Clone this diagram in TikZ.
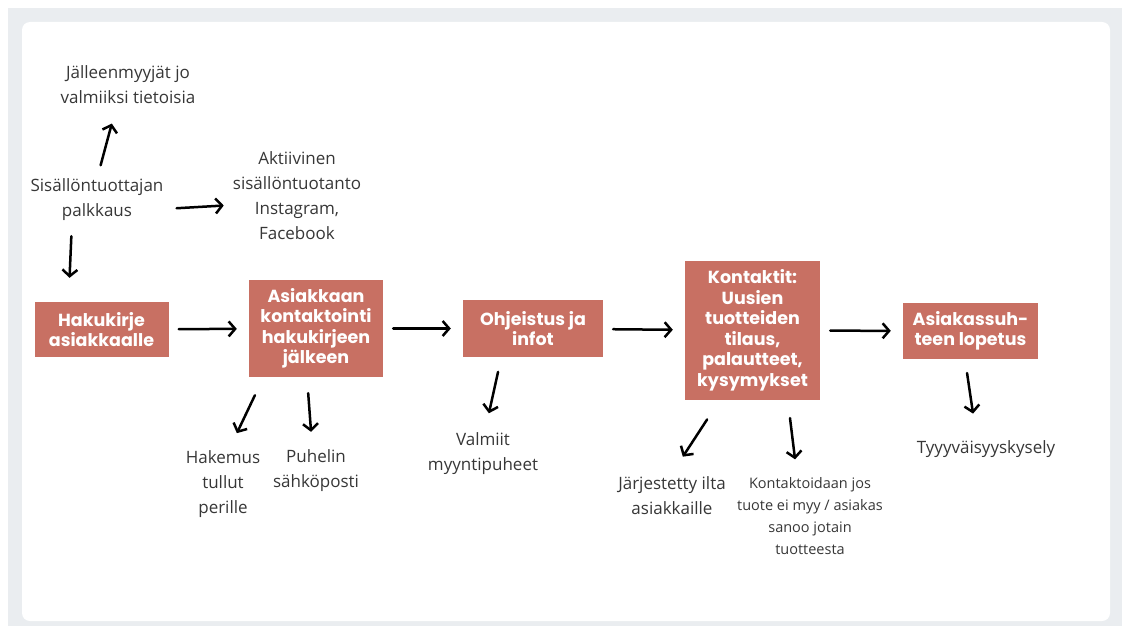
\documentclass[tikz,border=0pt]{standalone}
\usepackage{fontspec}
\usepackage{xcolor}
\usetikzlibrary{arrows.meta, positioning}
\setmainfont{Open Sans}
\newfontfamily\boxfont{Poppins}
\definecolor{salmon}{RGB}{200,112,99}
\definecolor{pagegray}{RGB}{234,237,240}
\definecolor{txtgray}{RGB}{55,55,55}

\begin{document}
\begin{tikzpicture}[x=1pt, y=-1pt,
        box/.style={fill=salmon, text=white, align=center, inner sep=0pt, minimum width=134pt,
            font=\boxfont\bfseries\fontsize{17.5}{20.5}\selectfont},
        note/.style={text=txtgray, align=center, inner sep=0pt, font=\fontsize{17}{25}\selectfont},
        smallnote/.style={text=txtgray, align=center, inner sep=0pt, font=\fontsize{14.5}{22}\selectfont},
        arr/.style={-{Straight Barb[length=6.5pt, width=15pt]}, line width=2.5pt, line cap=round},
        chain/.style={arr, shorten <=10pt, shorten >=12pt}]
        \fill[white] (0, 0) rectangle (1122, 626);
        \fill[pagegray] (8, 8) rectangle (1122, 626);
        \fill[white, rounded corners=8pt] (22, 22) rectangle (1110, 621);
        
        \node[box, minimum height=55pt] (hakukirje) at (101.5, 329.5) {Hakukirje\\asiakkaalle};
        \node[box, minimum height=97pt] (kontaktointi) at (316, 328.5) {Asiakkaan\\kontaktointi\\hakukirjeen\\jälkeen};
        \node[box, minimum height=57pt, minimum width=140pt] (ohjeistus) at (533, 328.5) {Ohjeistus ja\\infot};
        \node[box, minimum height=139pt, minimum width=135pt] (kontaktit) at (752.5, 330.5) {Kontaktit:\\Uusien\\tuotteiden\\tilaus,\\palautteet,\\kysymykset};
        \node[box, minimum height=56pt, minimum width=135pt] (lopetus) at (970.5, 331) {Asiakassuh-\\teen lopetus};
        
        \node[note] (jalleen) at (128, 85) {Jälleenmyyjät jo\\valmiiksi tietoisia};
        \node[note] (palkkaus) at (97, 200) {Sisällöntuottajan\\palkkaus};
        \node[note] (aktiivinen) at (297, 196) {Aktiivinen\\sisällöntuotanto\\Instagram,\\Facebook};
        \node[note] (hakemus) at (223, 484) {Hakemus\\tullut\\perille};
        \node[note] (puhelin) at (316, 471) {Puhelin\\sähköposti};
        \node[note] (valmiit) at (483, 454) {Valmiit\\myyntipuheet};
        \node[note] (ilta) at (672, 496) {Järjestetty ilta\\asiakkaille};
        \node[smallnote] (myy) at (810, 516) {Kontaktoidaan jos\\tuote ei myy / asiakas\\sanoo jotain\\tuotteesta};
        \node[note] (kysely) at (986, 449) {Tyyyväisyyskysely};
        
        \draw[chain] (hakukirje) -- (kontaktointi);
        \draw[chain] (kontaktointi) -- (ohjeistus);
        \draw[chain] (ohjeistus) -- (kontaktit);
        \draw[chain] (kontaktit) -- (lopetus);
        
        \draw[arr, shorten <=14pt, shorten >=20pt] (palkkaus.north) -- ([xshift=-11pt]jalleen.south);
        \draw[arr, shorten <=13pt, shorten >=9pt] ([yshift=-9pt]palkkaus.east) -- ([yshift=-9pt]aktiivinen.west);
        \draw[arr, shorten <=15pt, shorten >=24pt] ([xshift=-25pt]palkkaus.south) -- ([xshift=-33pt]hakukirje.north);
        \draw[arr, shorten <=20pt, shorten >=19pt] ([xshift=-52.5pt]kontaktointi.south) -- ([xshift=5.7pt]hakemus.north);
        \draw[arr, shorten <=16pt, shorten >=18pt] ([xshift=-9pt]kontaktointi.south) -- ([xshift=-3.6pt]puhelin.north);
        \draw[arr, shorten <=15pt, shorten >=20pt] ([xshift=-31.7pt]ohjeistus.south) -- ([xshift=1.6pt]valmiit.north);
        \draw[arr, shorten <=23pt, shorten >=24pt] ([xshift=-32.8pt]kontaktit.south) -- ([xshift=-2.3pt]ilta.north);
        \draw[arr, shorten <=18pt, shorten >=18pt] ([xshift=35.3pt]kontaktit.south) -- ([xshift=-12.75pt]myy.north);
        \draw[arr, shorten <=14pt, shorten >=27pt] ([xshift=-5.5pt]lopetus.south) -- ([xshift=-9pt]kysely.north);
    \end{tikzpicture}
\end{document}
